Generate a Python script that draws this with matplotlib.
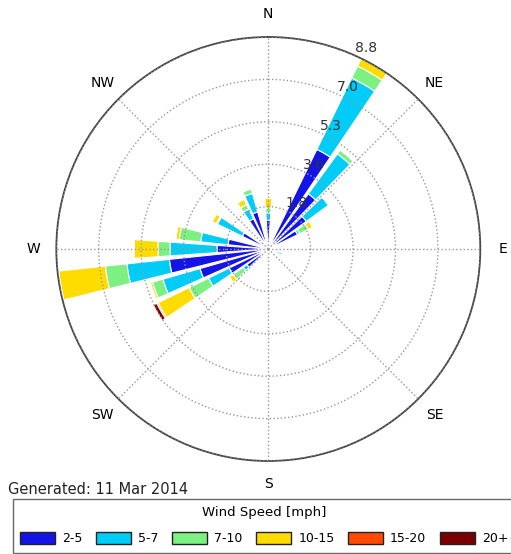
import numpy as np
import matplotlib.pyplot as plt
from matplotlib.patches import Patch

# wind direction sectors (degrees, clockwise from north) and frequency (%) per speed bin
directions = [0, 30, 40, 50, 60, 100, 110, 120, 230, 240, 250, 260, 270, 280, 300, 330, 340]
speed_2_5 = [1.2, 4.6, 2.83, 1.95, 1.35, 0, 0, 0, 1.1, 1.81, 2.95, 4.13, 2.13, 1.68, 1.2, 1.4, 1.6]
speed_5_7 = [0.3, 3.3, 2.05, 1.15, 0.1, 0.35, 0.6, 0.3, 0.2, 0.95, 1.6, 1.77, 1.95, 1.14, 1.15, 0.45, 0.8]
speed_7_10 = [0.2, 0.55, 0.2, 0, 0.4, 0, 0, 0, 0.5, 0.9, 0.45, 0.9, 0.5, 0.9, 0.05, 0.2, 0.2]
speed_10_15 = [0.4, 0.35, 0, 0, 0.2, 0, 0, 0, 0.2, 1.43, 0.1, 1.95, 1.0, 0.15, 0.2, 0.25, 0]
speed_15_20 = [0, 0, 0, 0, 0, 0, 0, 0, 0, 0.06, 0, 0, 0, 0, 0, 0, 0]
speed_20_up = [0, 0, 0, 0, 0, 0, 0, 0, 0, 0.16, 0, 0, 0, 0, 0, 0, 0]

bin_labels = ['2-5', '5-7', '7-10', '10-15', '15-20', '20+']
bin_colors = ['#1414e8', '#00ccf8', '#7cf080', '#ffdc00', '#ff4a00', '#7a0000']
r_ticks = [1.76, 3.52, 5.28, 7.04, 8.8]
r_labels = ['1.8', '3.6', '5.3', '7.0', '8.8']
compass = ['N', 'NE', 'E', 'SE', 'S', 'SW', 'W', 'NW']

fig = plt.figure(figsize=(5.11, 5.54), dpi=100)
ax = fig.add_axes([0.1102, 0.1679, 0.8297, 0.7653], projection='polar')
ax.set_theta_zero_location('N')
ax.set_theta_direction(-1)
ax.set_axisbelow(False)  # grid and radius labels on top of the bars

theta = np.radians(directions)
width = np.radians(8)
bottom = np.zeros(len(directions))
series = [speed_2_5, speed_5_7, speed_7_10, speed_10_15, speed_15_20, speed_20_up]
for vals, col in zip(series, bin_colors):
    vals = np.array(vals)
    ax.bar(theta, vals, width=width, bottom=bottom, color=col,
           edgecolor='white', linewidth=0.8, zorder=2)
    bottom += vals

ax.set_ylim(0, 8.8)
ax.set_rgrids(r_ticks, labels=r_labels, angle=24, fontsize=10, color='#333333')
ax.set_thetagrids(range(0, 360, 45), labels=compass, fontsize=10)
ax.tick_params(axis='x', pad=6)
ax.grid(True, linestyle=':', color='#999999', linewidth=1)
ax.spines['polar'].set_color('#444444')
ax.spines['polar'].set_linewidth(1.3)

fig.text(0.016, 1 - 490 / 554, 'Generated: 11 Mar 2014', fontsize=10.5,
         va='center', ha='left', color='#222222')

handles = [Patch(facecolor=c, edgecolor='#222222', label=l) for c, l in zip(bin_colors, bin_labels)]
leg = fig.legend(handles=handles, loc='lower left', bbox_to_anchor=(0.025, 0.002),
                 ncol=6, title='Wind Speed [mph]', fontsize=9, title_fontsize=9.5,
                 fancybox=False, frameon=True, edgecolor='#444444',
                 handlelength=2.8, handleheight=1.15, handletextpad=0.55,
                 columnspacing=1.1, borderaxespad=0, borderpad=0.6, labelspacing=1.0)
leg.get_frame().set_linewidth(1.0)

fig.savefig('out.png', dpi=100)
